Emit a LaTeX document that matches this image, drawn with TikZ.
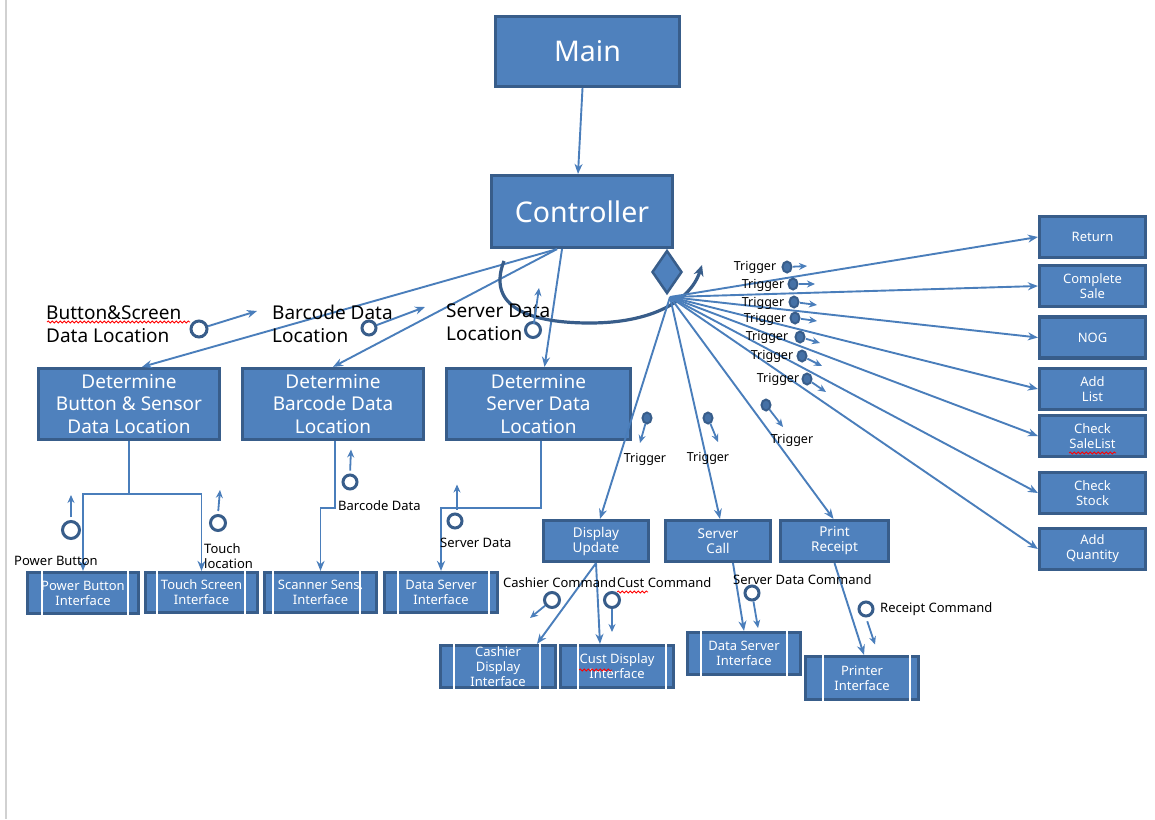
\documentclass[tikz,border=0pt]{standalone}
\usepackage{fontspec}
\setmainfont{Noto Sans}
\usetikzlibrary{arrows.meta,shapes.geometric,calc,decorations.pathmorphing}
\definecolor{bfill}{HTML}{4F81BD}
\definecolor{bdark}{HTML}{385D8A}
\definecolor{aline}{HTML}{4A7EBB}
\newcommand\fsz[2]{\fontsize{#1}{#2}\selectfont}
\newcommand\intbox[8]{%
  \node[ibox, minimum width=#4, minimum height=#5] (#1) at (#2,#3) {#8};
  \draw[white, line width=1.6pt] ($(#1.north west)+(#6,0)$) -- ($(#1.south west)+(#6,0)$);
  \draw[white, line width=1.6pt] ($(#1.north east)+(-#7,0)$) -- ($(#1.south east)+(-#7,0)$);
}
\begin{document}
\begin{tikzpicture}[x=1pt,y=-1pt,
  box/.style={draw=bdark, fill=bfill, line width=3.2pt, text=white, align=center, inner sep=0pt},
  ibox/.style={box, font=\fsz{13}{15}},
  rbox/.style={box, font=\fsz{13}{15}, minimum width=106, minimum height=41},
  arr/.style={draw=aline, line width=1.9pt, -{Stealth[length=10pt,width=8pt]}},
  plain/.style={draw=aline, line width=1.9pt},
  sarr/.style={draw=aline, line width=1.8pt, -{Stealth[length=8pt,width=7pt]}},
  hc/.style={circle, draw=bdark, line width=3pt, fill=white, inner sep=0pt},
  tc/.style={ellipse, draw=bdark, fill=bfill!55!bdark, line width=2pt, inner sep=0pt, minimum width=9, minimum height=11},
  lbl/.style={font=\fsz{19}{22.5}, align=left, inner sep=0pt},
  sl/.style={font=\fsz{13}{15}, align=left, inner sep=0pt},
  tg/.style={font=\fsz{12.5}{14}, inner sep=0pt},
  wavy/.style={draw=red, line width=0.8pt, decorate, decoration={snake, amplitude=1pt, segment length=4pt}}
]
\path[use as bounding box, fill=white] (0,0) rectangle (1155,819);
\draw[black!18, line width=1.5pt] (6,0) -- (6,819);

% main boxes
\node[box, minimum width=184, minimum height=70, font=\fsz{28.5}{32}] (main) at (587.5,51.5) {Main};
\node[box, minimum width=181, minimum height=72, font=\fsz{28.5}{32}] (ctrl) at (582,211.5) {Controller};
\node[box, minimum width=181, minimum height=71, font=\fsz{19}{22.5}] (detbtn) at (129,404) {Determine\\Button \& Sensor\\Data Location};
\node[box, minimum width=181, minimum height=71, font=\fsz{19}{22.5}] (detbar) at (333,404) {Determine\\Barcode Data\\Location};
\node[box, minimum width=184, minimum height=71, font=\fsz{19}{22.5}] (detsrv) at (538.5,404) {Determine\\Server Data\\Location};

% right boxes
\node[rbox] (ret) at (1092.5,237) {Return};
\node[rbox] (cs) at (1092.5,286) {Complete\\Sale};
\node[rbox] (nog) at (1092.5,337.5) {NOG};
\node[rbox] (al) at (1092.5,389) {Add\\List};
\node[rbox] (csl) at (1092.5,436) {Check\\SaleList};
\node[rbox] (cst) at (1092.5,493) {Check\\Stock};
\node[rbox] (aq) at (1092.5,549) {Add\\Quantity};

% middle boxes
\node[box, font=\fsz{13.5}{15}, minimum width=105, minimum height=41] (du) at (596,541) {Display\\Update};
\node[box, font=\fsz{13.5}{15}, minimum width=105, minimum height=41] (sc) at (718,541) {Server\\Call};
\node[box, font=\fsz{13.5}{15}, minimum width=108, minimum height=41] (pr) at (834.5,541) {Print\\Receipt};

% interface boxes
\intbox{pbi}{83}{593}{111}{41}{16}{12}{Power Button\\Interface}
\intbox{tsi}{201.5}{592.5}{112}{40}{13}{14}{Touch Screen\\Interface}
\intbox{sci}{320.5}{592.5}{112}{40}{10}{18}{Scanner Sens.\\Interface}
\intbox{dsa}{441}{592.5}{113}{40}{15}{10}{Data Server\\Interface}
\intbox{cdi}{498}{666.5}{115}{42}{15}{17}{Cashier\\Display\\Interface}
\intbox{cudi}{617}{666.5}{113}{42}{19}{9}{Cust Display\\Interface}
\intbox{dsb}{744}{653.5}{113}{42}{15}{15}{Data Server\\Interface}
\intbox{pri}{862}{678}{113}{43}{19}{10}{Printer\\Interface}

% main -> controller
\draw[arr] ([xshift=-5]main.south) -- ([xshift=-4]ctrl.north);
% controller -> determine
\draw[arr] ([xshift=-25]ctrl.south) -- ([xshift=13]detbtn.north);
\draw[arr] ([xshift=-25]ctrl.south) -- (detbar.north);
\draw[arr] ([xshift=-20]ctrl.south) -- ([xshift=6]detsrv.north);

% curved loop arrow
\draw[draw=bdark, line width=3.2pt, -{Stealth[length=11pt,width=10pt]}] (504,261) .. controls (488,302) and (520,323) .. (590,323) .. controls (650,323) and (690,302) .. (702,265);

% diamond
\node[diamond, draw=bdark, fill=bfill, line width=2.5pt, inner sep=0pt, minimum width=30, minimum height=43] (dia) at (667,272) {};
\coordinate (fan) at (670,297);

% fan
\foreach \t in {ret,cs,nog,al,csl,cst,aq} {\draw[arr] (fan) -- (\t.west);}
\draw[arr] (fan) -- ([xshift=4]du.north);
\draw[arr] (fan) -- ([xshift=2]sc.north);
\draw[arr] (fan) -- ([xshift=-1]pr.north);

% triggers
\foreach \tx/\ty/\ex/\ey/\dx/\dy [count=\i] in {
  755/267/787/267/20/-1,
  763/285/793/284/22/0,
  763/303/794/302/23/3,
  765/319/795/318/22/3,
  767/337/800/337/20/6,
  772/356/802/356/20/10,
  778/379/807/379/19/13} {
  \node[tg] (tt\i) at (\tx,\ty) {Trigger};
  \node[tc] (te\i) at (\ex,\ey) {};
  \draw[sarr, shorten <=6pt] (te\i.center) -- ++(\dx,\dy);
}
\node[tc] (te8) at (766,405) {};
\draw[sarr, shorten <=6pt] (te8.center) -- ++(17,22);
\node[tg] (tt8) at (792,440) {Trigger};
\node[tc] (te9) at (708,418) {};
\draw[sarr, shorten <=6pt] (te9.center) -- ++(10,24);
\node[tg] (tt9) at (708,458) {Trigger};
\node[tc] (te10) at (647,418) {};
\draw[sarr, shorten <=6pt] (te10.center) -- ++(-7,25);
\node[tg] (tt10) at (645,459) {Trigger};

% labels with hollow circles near controller
\node[lbl, anchor=west] (l1) at (46,324) {Button\&Screen\\Data Location};
\node[hc, minimum size=16] (c1) at (199,329) {};
\draw[arr] (c1) -- ++(58,-18);
\node[lbl, anchor=west] (l2) at (272,324) {Barcode Data\\Location};
\node[hc, minimum size=14] (c2) at (369,328) {};
\draw[arr] (c2) -- ++(56,-21);
\node[lbl, anchor=west] (l3) at (446,322) {Server Data\\Location};
\node[hc, minimum size=15, fill=none] (c3) at (533,330) {};
\draw[sarr, shorten <=6pt] (c3.center) -- ++(6,-42);

% determine -> interfaces
\coordinate (j1) at (129,494);
\draw[plain] (detbtn.south) -- (j1);
\draw[arr] (j1) -| (pbi.north);
\draw[arr] (j1) -| (tsi.north);
\draw[arr] ([xshift=2]detbar.south) -- ++(0,67) -| (sci.north);
\draw[arr] ([xshift=2.5]detsrv.south) -- ++(0,67) -| (dsa.north);

\node[hc, minimum size=17] (c4) at (71,530) {};
\draw[sarr, shorten <=3pt] (c4.north) -- ++(0,-25);
\node[sl, anchor=center] (t4) at (56,561) {Power Button};
\node[hc, minimum size=15] (c5) at (218,523) {};
\draw[sarr, shorten <=3pt] (c5.north) -- ++(2,-24);
\node[sl, anchor=west] (t5) at (204,556) {Touch\\location};
\node[hc, minimum size=14] (c6) at (350,482) {};
\draw[sarr, shorten <=3pt] (c6.north) -- ++(1,-24);
\node[sl, anchor=west] (t6) at (338,506) {Barcode Data};
\node[hc, minimum size=14] (c7) at (455,521) {};
\draw[sarr, shorten <=3pt] ([xshift=2]c7.north) -- ++(0,-28);
\node[sl, anchor=west] (t7) at (440,543) {Server Data};

% lower connectors
\draw[arr] (du.south) -- ([xshift=39]cdi.north);
\draw[arr] (du.south) -- ([xshift=-17]cudi.north);
\draw[arr] ([xshift=15]sc.south) -- (dsb.north);
\draw[arr] (pr.south) -- ([xshift=2]pri.north);

\node[sl, anchor=west] (t8) at (503,583) {Cashier Command};
\node[sl, anchor=west] (t9) at (617,583) {Cust Command};
\node[hc, minimum size=15] (c8) at (552,600) {};
\draw[sarr] (c8) -- ++(-22,18);
\node[hc, minimum size=15] (c9) at (612,600) {};
\draw[sarr] (c9) -- ++(0,32);
\node[sl, anchor=west] (t10) at (733,580) {Server Data Command};
\node[hc, minimum size=14] (c10) at (752,593) {};
\draw[sarr] (c10) -- ++(6,35);
\node[hc, minimum size=14] (c11) at (866,609) {};
\node[sl, anchor=west] (t11) at (880,609) {Receipt Command};
\draw[sarr, shorten <=4pt] (c11.south) -- ++(9,27);

% spell-check underlines
\draw[wavy] (47,322) -- (190,322);
\draw[wavy] (1069,453) -- (1116,453);
\draw[wavy] (579,670) -- (612,670);
\draw[wavy] (617,592) -- (648,592);
\end{tikzpicture}
\end{document}
